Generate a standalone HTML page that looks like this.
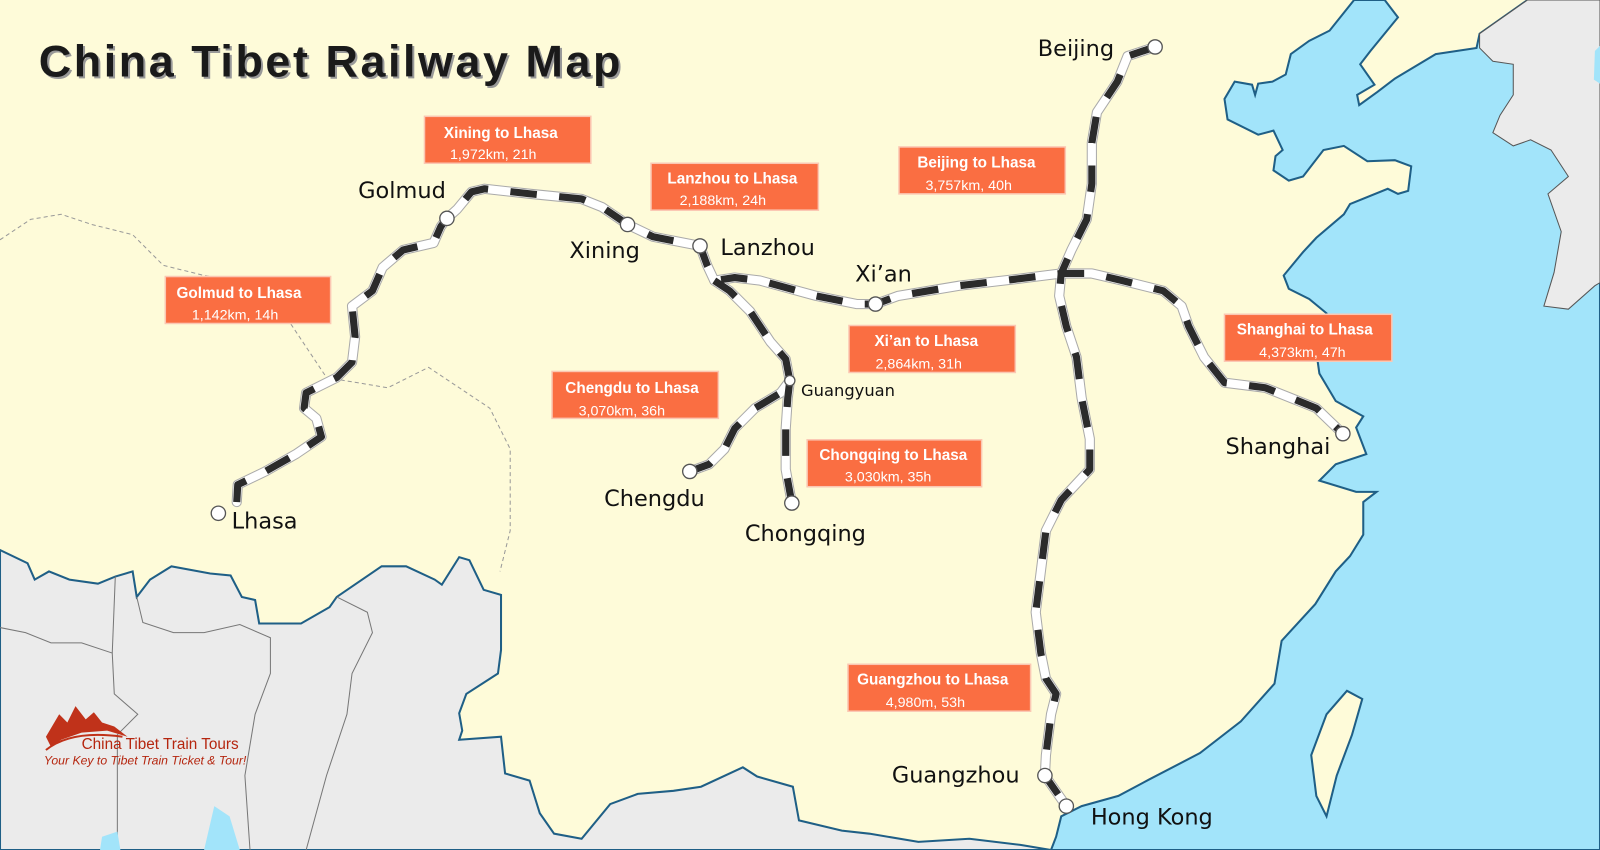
<!DOCTYPE html>
<html><head><meta charset="utf-8"><style>
html,body{margin:0;padding:0;background:#fefbd9;}
svg{display:block}
.bx{fill:#fa6e42;stroke:#fbc7b3;stroke-width:1.5}
.bt{font:bold 15px "Liberation Sans",sans-serif;fill:#fff}
.bs{font:14px "Liberation Sans",sans-serif;fill:#fff}
.c{font:22px "DejaVu Sans","Liberation Sans",sans-serif;fill:#111}
.rw{fill:none;stroke:#fff;stroke-width:8;stroke-linejoin:round;stroke-linecap:round}
.rb{fill:none;stroke:#aaa;stroke-width:10;stroke-linejoin:round;stroke-linecap:round}
.rd{fill:none;stroke:#2b2b2b;stroke-width:7;stroke-dasharray:26 22;stroke-linejoin:round}
.st{fill:#fff;stroke:#555;stroke-width:1.3}
</style></head><body>
<svg width="1600" height="850" viewBox="0 0 1568 833" preserveAspectRatio="none" xmlns="http://www.w3.org/2000/svg">
<defs>
<path id="r1" fill="none" d="M232,492 L233,475 L260,462 L290,445 L315,428 L310,410 L298,400 L300,385 L330,370 L345,355 L348,330 L345,300 L365,285 L375,262 L395,245 L425,238 L432,222 L438,214 L448,205 L462,188 L475,185 L520,190 L570,195 L590,203 L615,220 L640,232 L686,241 L693,260 L700,275 L720,272 L745,275 L800,290 L840,298 L858,298 L880,290 L940,280 L1000,273 L1040,268 L1070,268 L1100,275 L1140,285 L1158,300 L1165,320 L1180,350 L1200,375 L1240,380 L1290,400 L1316,425"/>
<path id="r2" fill="none" d="M1132,46 L1105,55 L1095,80 L1075,110 L1070,140 L1070,180 L1065,215 L1050,245 L1040,268 L1038,290 L1045,320 L1055,350 L1060,390 L1068,430 L1068,460 L1040,490 L1025,520 L1020,560 L1015,600 L1020,640 L1025,665 L1035,680 L1030,700 L1025,740 L1024,760 L1045,790"/>
<path id="r3" fill="none" d="M700,275 L715,285 L735,305 L755,335 L770,352 L774,373 L765,385 L740,400 L720,420 L710,440 L695,455 L676,462"/>
<path id="r4" fill="none" d="M774,373 L772,390 L770,420 L770,460 L776,493"/>
</defs>
<rect width="1568" height="833" fill="#fefbd9"/>
<!-- sea -->
<polygon fill="#a2e4fa" stroke="#1f5f86" stroke-width="2" points="1327,0 1303,30 1283,40 1265,53 1260,73 1247,80 1233,82 1230,93 1227,83 1210,80 1200,97 1203,117 1233,132 1248,128 1257,147 1250,153 1248,167 1263,177 1277,173 1297,147 1317,143 1340,158 1367,157 1383,163 1380,187 1370,190 1360,185 1323,200 1317,210 1290,233 1277,247 1258,270 1263,283 1283,293 1300,307 1303,320 1290,345 1293,366 1309,393 1336,408 1329,419 1339,445 1309,455 1293,471 1329,482 1349,482 1336,492 1336,524 1323,545 1309,560 1289,592 1256,628 1249,670 1216,707 1176,738 1126,764 1096,780 1060,790 1040,800 1035,820 1030,833 1568,833 1568,0 1497,0 1450,33 1447,47 1407,53 1367,77 1350,90 1332,103 1330,93 1347,83 1333,63 1343,50 1370,17 1357,0"/>
<!-- Korea -->
<polygon fill="#ebebeb" stroke="#555" stroke-width="1" points="1497,0 1568,0 1568,277 1563,280 1537,303 1513,300 1523,267 1530,227 1517,190 1537,173 1520,147 1500,137 1483,143 1463,130 1470,113 1483,93 1483,63 1463,60 1450,47 1450,33"/>
<polygon fill="#a2e4fa" points="1563,50 1568,45 1568,82 1562,78"/>
<!-- Taiwan -->
<polygon fill="#fefbd9" stroke="#1f5f86" stroke-width="2" points="1320,677 1335,685 1325,720 1310,760 1300,800 1290,780 1285,740 1300,700"/>
<!-- south neighbours -->
<polygon fill="#ebebeb" stroke="#1f5f86" stroke-width="2" points="0,539 27,552 34,568 48,560 68,568 96,572 113,565 130,560 134,585 147,568 168,555 206,562 226,564 237,585 250,588 254,611 295,611 323,595 330,585 374,555 398,555 426,568 433,573 450,546 460,549 474,578 491,583 491,637 488,660 457,680 450,699 453,716 450,725 491,722 495,758 519,765 529,797 543,817 570,822 598,788 625,778 660,775 687,771 728,752 742,761 777,771 783,804 825,814 852,817 900,825 950,822 1000,828 1030,833 0,833"/>
<g fill="none" stroke="#777" stroke-width="1">
<path d="M0,615 L25,620 L50,630 L80,630 L110,640 M113,565 L110,640 L112,680 L135,700 L115,720 L115,833 M134,585 L140,610 L170,620 L200,620 L235,612 L265,625 L265,660 L250,700 L240,760 L245,833 M330,585 L360,600 L365,620 L345,660 L340,700 L320,760 L300,833"/>
</g>
<path d="M210,790 L225,800 L235,833 L200,833 Z M100,820 L115,815 L118,833 L98,833Z" fill="#a2e4fa"/>
<!-- dashed Tibet border -->
<path d="M0,235 L30,215 L60,210 L90,220 L130,230 L160,260 L200,270 L260,280 L320,370 L380,380 L420,360 L480,400 L500,440 L500,520 L490,560" fill="none" stroke="#999" stroke-width="1" stroke-dasharray="4 3"/>
<!-- railways -->
<g class="rb"><use href="#r1"/><use href="#r2"/><use href="#r3"/><use href="#r4"/></g>
<g class="rw"><use href="#r1"/><use href="#r2"/><use href="#r3"/><use href="#r4"/></g>
<g class="rd"><use href="#r1"/><use href="#r2"/><use href="#r3"/><use href="#r4"/></g>
<!-- stations -->
<g class="st">
<circle cx="214" cy="503" r="7"/><circle cx="438" cy="214" r="7"/><circle cx="615" cy="220" r="7"/><circle cx="686" cy="241" r="7"/><circle cx="858" cy="298" r="7"/><circle cx="1132" cy="46" r="7"/><circle cx="1316" cy="425" r="7"/><circle cx="774" cy="373" r="5"/><circle cx="676" cy="462" r="7"/><circle cx="776" cy="493" r="7"/><circle cx="1024" cy="760" r="7"/><circle cx="1045" cy="790" r="7"/>
</g>
<!-- city labels -->
<text class="c" x="1017" y="55">Beijing</text>
<text class="c" x="351" y="194">Golmud</text>
<text class="c" x="558" y="253">Xining</text>
<text class="c" x="706" y="250">Lanzhou</text>
<text class="c" x="838" y="276">Xi’an</text>
<text class="c" x="227" y="518">Lhasa</text>
<text class="c" x="592" y="496">Chengdu</text>
<text class="c" x="730" y="530">Chongqing</text>
<text x="785" y="388" style="font:16px 'DejaVu Sans','Liberation Sans',sans-serif;fill:#111">Guangyuan</text>
<text class="c" x="1201" y="445">Shanghai</text>
<text class="c" x="874" y="767">Guangzhou</text>
<text class="c" x="1069" y="808">Hong Kong</text>
<!-- boxes -->
<rect class="bx" x="416" y="114" width="163" height="46"/><text class="bt" x="435" y="135">Xining to Lhasa</text><text class="bs" x="441" y="156">1,972km, 21h</text>
<rect class="bx" x="638" y="160" width="164" height="46"/><text class="bt" x="654" y="180">Lanzhou to Lhasa</text><text class="bs" x="666" y="201">2,188km, 24h</text>
<rect class="bx" x="881" y="144" width="163" height="46"/><text class="bt" x="899" y="164">Beijing to Lhasa</text><text class="bs" x="907" y="186">3,757km, 40h</text>
<rect class="bx" x="162" y="271" width="162" height="46"/><text class="bt" x="173" y="292">Golmud to Lhasa</text><text class="bs" x="188" y="313">1,142km, 14h</text>
<rect class="bx" x="832" y="319" width="163" height="46"/><text class="bt" x="857" y="339">Xi’an to Lhasa</text><text class="bs" x="858" y="361">2,864km, 31h</text>
<rect class="bx" x="1200" y="308" width="164" height="46"/><text class="bt" x="1212" y="328">Shanghai to Lhasa</text><text class="bs" x="1234" y="350">4,373km, 47h</text>
<rect class="bx" x="541" y="364" width="163" height="46"/><text class="bt" x="554" y="385">Chengdu to Lhasa</text><text class="bs" x="567" y="407">3,070km, 36h</text>
<rect class="bx" x="791" y="431" width="171" height="46"/><text class="bt" x="803" y="451">Chongqing to Lhasa</text><text class="bs" x="828" y="472">3,030km, 35h</text>
<rect class="bx" x="831" y="651" width="179" height="46"/><text class="bt" x="840" y="671">Guangzhou to Lhasa</text><text class="bs" x="868" y="693">4,980m, 53h</text>
<!-- title -->
<text x="40" y="77" textLength="570" style="font:bold 44px 'Liberation Sans',sans-serif;fill:#999">China Tibet Railway Map</text>
<text x="38" y="75" textLength="570" style="font:bold 44px 'Liberation Sans',sans-serif;fill:#1a1a1a">China Tibet Railway Map</text>
<!-- logo -->
<path d="M45,722 L58,700 L66,708 L74,692 L84,705 L92,698 L100,708 L112,712 L125,722 L105,716 L80,718 L60,725 L50,732 Z" fill="#c0321a"/>
<path d="M45,735 Q70,715 120,722" fill="none" stroke="#c0321a" stroke-width="2"/>
<text x="80" y="734" style="font:15px 'Liberation Sans',sans-serif;fill:#b5260f">China Tibet Train Tours</text>
<text x="43" y="749" style="font:italic 12px 'Liberation Sans',sans-serif;fill:#b5260f">Your Key to Tibet Train Ticket &amp; Tour!</text>
</svg>
</body></html>
